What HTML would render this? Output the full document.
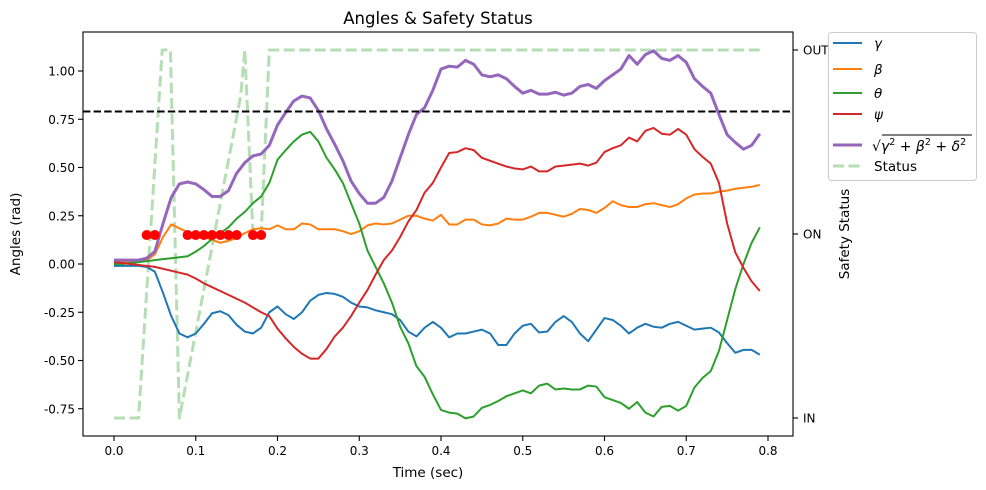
<!DOCTYPE html>
<html><head><meta charset="utf-8">
<style>
html,body{margin:0;padding:0;background:#fff;}
svg{display:block;font-family:"DejaVu Sans","Liberation Sans",sans-serif;}
</style></head>
<body>
<svg id="chart" width="986" height="490" viewBox="0 0 986 490" xmlns="http://www.w3.org/2000/svg">
<rect x="0" y="0" width="986" height="490" fill="#fff"/>
<text x="438" y="24" font-size="16.5" text-anchor="middle">Angles &amp; Safety Status</text>
<g id="plot"></g>
<rect x="83" y="32" width="710" height="404" fill="none" stroke="#000" stroke-width="1.1"/>
<text x="428" y="477" font-size="13.5" text-anchor="middle">Time (sec)</text>
<text x="0" y="0" font-size="13.5" text-anchor="middle" transform="translate(20,234) rotate(-90)">Angles (rad)</text>
<text x="0" y="0" font-size="13.5" text-anchor="middle" transform="translate(849,234) rotate(-90)">Safety Status</text>
<g id="legend">
<rect x="828.5" y="32.5" width="148" height="148" rx="3" fill="#fff" fill-opacity="0.8" stroke="#ccc"/>
<line x1="833" y1="43" x2="862" y2="43" stroke="#1f77b4" stroke-width="2"/>
<text x="874" y="48" font-size="13.5" font-style="italic">γ</text>
<line x1="833" y1="69" x2="862" y2="69" stroke="#ff7f0e" stroke-width="2"/>
<text x="874" y="74" font-size="13.5" font-style="italic">β</text>
<line x1="833" y1="93" x2="862" y2="93" stroke="#2ca02c" stroke-width="2"/>
<text x="874" y="98" font-size="13.5" font-style="italic">θ</text>
<line x1="833" y1="114" x2="862" y2="114" stroke="#d62728" stroke-width="2"/>
<text x="874" y="119" font-size="13.5" font-style="italic">ψ</text>
<line x1="833" y1="145" x2="862" y2="145" stroke="#9467bd" stroke-width="3"/>
<text x="872" y="151" font-size="14">√<tspan font-style="italic">γ</tspan><tspan font-size="9.5" dy="-6">2</tspan><tspan dy="6"> + </tspan><tspan font-style="italic">β</tspan><tspan font-size="9.5" dy="-6">2</tspan><tspan dy="6"> + </tspan><tspan font-style="italic">δ</tspan><tspan font-size="9.5" dy="-6">2</tspan></text>
<line x1="882" y1="135" x2="972" y2="135" stroke="#000" stroke-width="0.9"/>
<line x1="833" y1="166" x2="862" y2="166" stroke="#2ca02c" stroke-opacity="0.35" stroke-width="3" stroke-dasharray="11,4.5"/>
<text x="874" y="171" font-size="13.5">Status</text>
</g>
</svg>
<script>
const times = [];
for (let i = 0; i < 80; i++) times.push(+(i * 0.01).toFixed(2));
const gamma = [-0.01,-0.01,-0.01,-0.01,-0.015,-0.04,-0.15,-0.27,-0.36,-0.38,
-0.36,-0.31,-0.255,-0.245,-0.265,-0.315,-0.35,-0.36,-0.33,-0.25,
-0.22,-0.26,-0.285,-0.25,-0.19,-0.16,-0.15,-0.155,-0.17,-0.2,
-0.22,-0.225,-0.24,-0.25,-0.26,-0.29,-0.35,-0.375,-0.33,-0.30,
-0.33,-0.38,-0.36,-0.36,-0.35,-0.34,-0.36,-0.42,-0.42,-0.36,
-0.32,-0.31,-0.355,-0.35,-0.30,-0.27,-0.30,-0.36,-0.40,-0.34,
-0.28,-0.29,-0.32,-0.36,-0.33,-0.31,-0.325,-0.33,-0.31,-0.30,
-0.32,-0.34,-0.335,-0.33,-0.355,-0.41,-0.46,-0.445,-0.445,-0.47];
const beta = [0.01,0.01,0.01,0.01,0.02,0.05,0.14,0.205,0.185,0.165,
0.15,0.14,0.125,0.11,0.12,0.135,0.16,0.18,0.185,0.18,
0.2,0.18,0.18,0.21,0.205,0.18,0.18,0.18,0.17,0.155,
0.17,0.2,0.21,0.205,0.21,0.23,0.25,0.25,0.235,0.225,
0.255,0.205,0.205,0.23,0.23,0.205,0.2,0.21,0.235,0.23,
0.23,0.245,0.265,0.265,0.255,0.245,0.26,0.285,0.28,0.265,
0.29,0.325,0.305,0.295,0.295,0.31,0.315,0.305,0.295,0.31,
0.34,0.36,0.365,0.365,0.375,0.38,0.39,0.395,0.4,0.41];
const theta = [0,0,0.005,0.01,0.015,0.02,0.025,0.03,0.035,0.04,
0.064,0.093,0.13,0.16,0.19,0.235,0.27,0.315,0.35,0.42,
0.54,0.59,0.635,0.67,0.685,0.635,0.55,0.49,0.42,0.315,
0.21,0.07,-0.015,-0.10,-0.2,-0.325,-0.41,-0.53,-0.585,-0.675,
-0.756,-0.77,-0.775,-0.8,-0.79,-0.745,-0.73,-0.71,-0.685,-0.67,
-0.655,-0.67,-0.63,-0.62,-0.65,-0.645,-0.65,-0.65,-0.63,-0.635,
-0.69,-0.705,-0.72,-0.75,-0.715,-0.77,-0.79,-0.74,-0.735,-0.76,
-0.735,-0.64,-0.59,-0.555,-0.45,-0.29,-0.13,0.0,0.11,0.19];
const psi = [0.01,0.005,0,-0.005,-0.01,-0.015,-0.025,-0.035,-0.045,-0.055,
-0.075,-0.1,-0.12,-0.14,-0.16,-0.18,-0.2,-0.225,-0.25,-0.27,
-0.335,-0.385,-0.43,-0.465,-0.49,-0.49,-0.44,-0.375,-0.33,-0.27,
-0.2,-0.135,-0.055,0.02,0.07,0.14,0.22,0.28,0.37,0.42,
0.5,0.575,0.58,0.60,0.59,0.55,0.535,0.52,0.505,0.495,
0.49,0.505,0.48,0.48,0.505,0.51,0.515,0.52,0.51,0.525,
0.58,0.60,0.615,0.655,0.635,0.69,0.705,0.675,0.67,0.70,
0.67,0.595,0.555,0.52,0.42,0.21,0.06,-0.02,-0.09,-0.14];
const norm = [0.02,0.02,0.02,0.02,0.03,0.065,0.21,0.345,0.415,0.425,
0.415,0.385,0.35,0.35,0.38,0.47,0.525,0.56,0.57,0.615,
0.72,0.785,0.845,0.87,0.86,0.795,0.70,0.62,0.535,0.43,
0.365,0.315,0.315,0.345,0.43,0.55,0.67,0.775,0.81,0.9,
1.01,1.025,1.02,1.055,1.035,0.98,0.97,0.98,0.96,0.92,
0.885,0.90,0.88,0.88,0.89,0.875,0.885,0.92,0.93,0.91,
0.95,0.98,1.01,1.08,1.035,1.085,1.105,1.065,1.055,1.08,
1.045,0.96,0.92,0.885,0.775,0.67,0.63,0.595,0.615,0.675];
const statusTimes = [0,0.03,0.059,0.069,0.08,0.155,0.16,0.17,0.18,0.19,0.79];
const statusValues = [0,0,2,2,0,1.75,2,1,1,2,2];
const markerTimes = [0.04,0.05,0.09,0.10,0.11,0.12,0.13,0.14,0.15,0.17,0.18];
const markerValue = 0.15;
const threshold = 0.79;
const xTicks = [0.0,0.1,0.2,0.3,0.4,0.5,0.6,0.7,0.8];
const yTicks = [-0.75,-0.5,-0.25,0.0,0.25,0.5,0.75,1.0];
const statusTickValues = [0,1,2];
const statusTickLabels = ["IN","ON","OUT"];

const NS = "http://www.w3.org/2000/svg";
const X0 = 83, X1 = 793, Y0 = 32, Y1 = 436;
function xs(t){ return 114 + t * 817.5; }
function ys(v){ return 264 - v * 193; }
function ysR(v){ return 418 - v * 184; }
const plot = document.getElementById('plot');
const svg = document.getElementById('chart');
function mk(tag, attrs, parent){
  const e = document.createElementNS(NS, tag);
  for (const k in attrs) e.setAttribute(k, attrs[k]);
  (parent || plot).appendChild(e);
  return e;
}
const defs = mk('defs', {}, svg);
const cp = mk('clipPath', {id:'clip'}, defs);
mk('rect', {x:X0, y:Y0, width:X1-X0, height:Y1-Y0}, cp);
const g = mk('g', {'clip-path':'url(#clip)'});



function line(xsArr, ysArr, yf, color, w, name, extra){
  const d = xsArr.map((t,i)=>(i?'L':'M')+xs(t).toFixed(2)+','+yf(ysArr[i]).toFixed(2)).join(' ');
  const p = mk('path', Object.assign({d:d, fill:'none', stroke:color, 'stroke-width':w, 'stroke-linejoin':'round'}, extra||{}), g);
  
  
}
line(statusTimes, statusValues, ysR, '#2ca02c', 3, 'status-line', {'stroke-opacity':'0.35','stroke-dasharray':'11,4.5'});
line(times, gamma, ys, '#1f77b4', 2, 'gamma-line');
line(times, beta, ys, '#ff7f0e', 2, 'beta-line');
line(times, theta, ys, '#2ca02c', 2, 'theta-line');
line(times, psi, ys, '#d62728', 2, 'psi-line');
line(times, norm, ys, '#9467bd', 3, 'norm-line');
const th = mk('line', {x1:X0, x2:X1, y1:ys(threshold), y2:ys(threshold), stroke:'#000', 'stroke-width':2, 'stroke-dasharray':'7.4,3.2'}, g);


markerTimes.forEach(t=>{
  const c = mk('circle', {cx:xs(t), cy:ys(markerValue), r:5, fill:'#ff0000'}, g);
  
  
});
xTicks.forEach(t=>{
  const x = xs(t);
  const tk = mk('line', {x1:x, x2:x, y1:Y1, y2:Y1+5, stroke:'#000', 'stroke-width':1.1});
  
  
  const tx = mk('text', {x:x, y:Y1+19, 'font-size':12, 'text-anchor':'middle'});
  tx.textContent = t.toFixed(1);
  
  
});
yTicks.forEach(v=>{
  const y = ys(v);
  const tk = mk('line', {x1:X0-5, x2:X0, y1:y, y2:y, stroke:'#000', 'stroke-width':1.1});
  
  
  const tx = mk('text', {x:X0-8, y:y+4.5, 'font-size':12, 'text-anchor':'end'});
  tx.textContent = v.toFixed(2);
  
  
});
statusTickValues.forEach((v,i)=>{
  const y = ysR(v);
  const tk = mk('line', {x1:X1, x2:X1+5, y1:y, y2:y, stroke:'#000', 'stroke-width':1.1});
  
  
  const tx = mk('text', {x:X1+10, y:y+4.5, 'font-size':12});
  tx.textContent = statusTickLabels[i];
  
  
});
</script>
</body></html>
